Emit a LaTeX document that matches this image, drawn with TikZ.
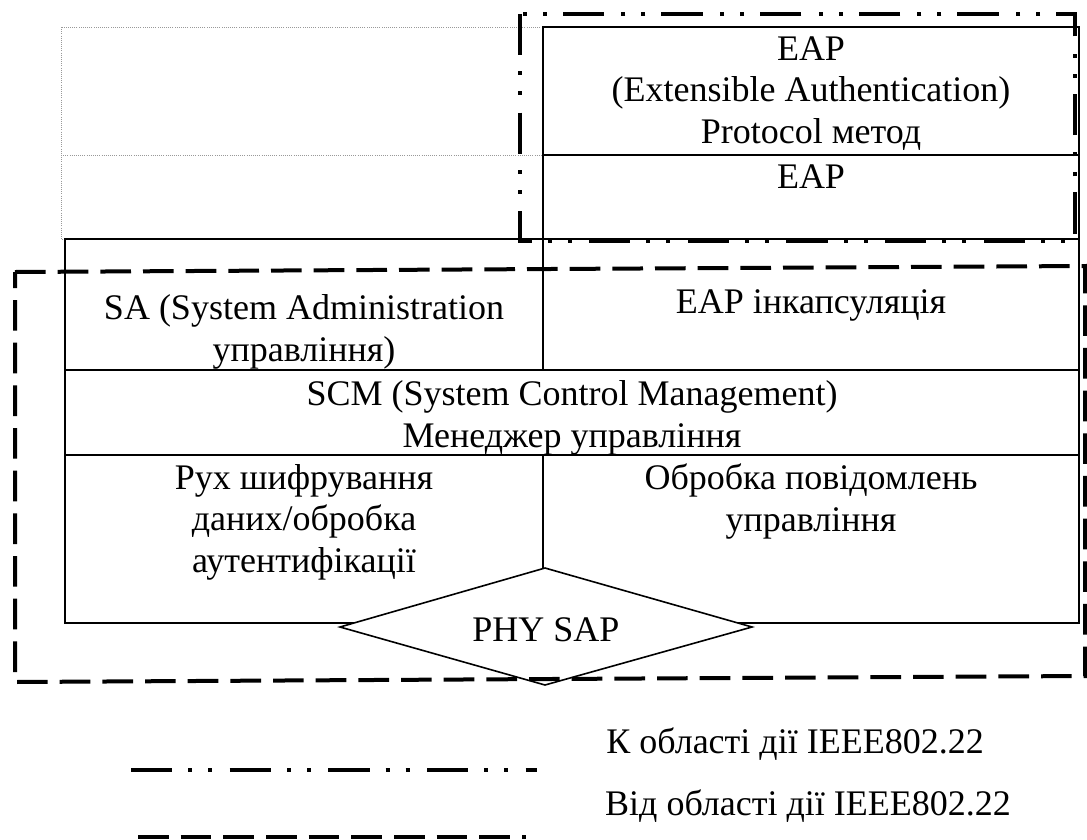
\documentclass[tikz,border=0pt]{standalone}
\usepackage{fontspec}
\setmainfont{Liberation Serif}

\begin{document}
\begin{tikzpicture}[
  x=0.75pt,y=-0.75pt,
  font=\fontsize{27}{31}\selectfont,
  rule/.style={draw,line width=0.8pt},
  emptycell/.style={draw=black!40,densely dotted,line width=0.6pt},
  layer/.style={align=center,inner sep=0pt,anchor=base},
  sap/.style={draw,fill=white,line width=1.2pt},
  toscope/.style={line width=3pt,dash pattern=on 31pt off 12pt on 3pt off 12pt on 3pt off 13pt},
  fromscope/.style={line width=3pt,dash pattern=on 23pt off 9pt},
]
\useasboundingbox (0,0) rectangle (1087,839);

% top layers, left half left empty
\draw[emptycell] (61,27) rectangle (543,239);
\draw[emptycell] (61,155) -- (543,155);
\draw[rule] (543,27) rectangle (1079,239);
\draw[rule] (543,155) -- (1079,155);
% management layers
\draw[rule] (65,239) rectangle (1079,623);
\draw[rule] (65,370) -- (1079,370);
\draw[rule] (65,455) -- (1079,455);
\draw[rule] (543,239) -- (543,370);
\draw[rule] (543,455) -- (543,623);
% PHY SAP
\coordinate (sapw) at (340,627);
\coordinate (sapn) at (545,568);
\coordinate (sape) at (752,627);
\coordinate (saps) at (545,685);
\draw[sap] (sapw) -- (sapn) -- (sape) -- (saps) -- cycle;
\node[layer] (phy) at (546,641) {PHY SAP};

\node[layer] (eapm) at (811,143) {EAP\\(Extensible Authentication)\\Protocol метод};
\node[layer] (eap) at (811,188) {EAP};
\node[layer] (sa) at (304,361) {SA (System Administration\\управління)};
\node[layer] (encap) at (811,313) {EAP інкапсуляція};
\node[layer] (scm) at (572,447) {SCM (System Control Management)\\Менеджер управління};
\node[layer] (crypt) at (304,572) {Рух шифрування\\даних/обробка\\аутентифікації};
\node[layer] (msg) at (811,531) {Обробка повідомлень\\управління};

% scope frames
\draw[toscope] (520,14) rectangle (1075,241);
\draw[fromscope] (15,272) -- (1085,266) -- (1085,676) -- (15,682) -- cycle;

% legend
\coordinate (tostart) at (131,770);
\coordinate (toend) at (537,770);
\draw[toscope,line width=3.5pt] (tostart) -- (toend);
\node[layer] (tolbl) at (795,753) {К області дії IEEE802.22};
\coordinate (fromstart) at (138,837);
\coordinate (fromend) at (526,837);
\draw[fromscope] (fromstart) -- (fromend);
\node[layer] (fromlbl) at (808,815) {Від області дії IEEE802.22};
\end{tikzpicture}
\end{document}
